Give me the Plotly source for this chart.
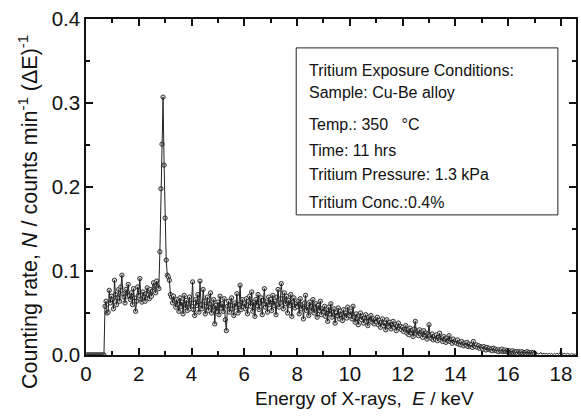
import plotly.graph_objects as go

# Channel calibration (keV per channel) of the spectrum
CHANNEL_WIDTH = 0.04

counts_0 = [0.0] * 17  # 0.04 - 0.68 keV
counts_0b = [0.058, 0.064, 0.050, 0.051, 0.077, 0.062, 0.070]  # 0.72 - 0.96
counts_1 = [0.066, 0.055, 0.089, 0.072, 0.060, 0.068, 0.078, 0.064, 0.081, 0.095, 0.073, 0.069, 0.062,
            0.078, 0.070, 0.084, 0.071, 0.066, 0.074, 0.060, 0.079, 0.068, 0.052, 0.064, 0.081]
counts_2 = [0.071, 0.091, 0.066, 0.063, 0.075, 0.069, 0.064, 0.073, 0.080, 0.072, 0.067, 0.078, 0.070,
            0.076, 0.086, 0.082, 0.074, 0.088, 0.081, 0.079, 0.123, 0.198, 0.251, 0.307, 0.226]
counts_3 = [0.163, 0.113, 0.095, 0.093, 0.089, 0.072, 0.069, 0.062, 0.070, 0.064, 0.057, 0.066, 0.060,
            0.052, 0.068, 0.058, 0.063, 0.049, 0.071, 0.056, 0.065, 0.053, 0.061, 0.069, 0.055]
counts_4 = [0.062, 0.087, 0.054, 0.047, 0.066, 0.059, 0.072, 0.051, 0.088, 0.060, 0.055, 0.078, 0.064,
            0.049, 0.058, 0.069, 0.053, 0.061, 0.074, 0.050, 0.057, 0.066, 0.037, 0.059, 0.052]
counts_5 = [0.063, 0.048, 0.070, 0.056, 0.061, 0.052, 0.067, 0.042, 0.029, 0.058, 0.064, 0.051, 0.059,
            0.068, 0.055, 0.047, 0.062, 0.057, 0.073, 0.050, 0.060, 0.083, 0.054, 0.066, 0.058]
counts_6 = [0.061, 0.055, 0.067, 0.049, 0.064, 0.070, 0.058, 0.075, 0.052, 0.063, 0.046, 0.066, 0.059,
            0.072, 0.054, 0.062, 0.068, 0.048, 0.065, 0.079, 0.057, 0.063, 0.051, 0.069, 0.060]
counts_7 = [0.066, 0.053, 0.071, 0.059, 0.064, 0.048, 0.069, 0.078, 0.057, 0.062, 0.085, 0.067, 0.055,
            0.074, 0.061, 0.070, 0.050, 0.065, 0.059, 0.072, 0.046, 0.063, 0.068, 0.056, 0.061]
counts_8 = [0.058, 0.064, 0.049, 0.067, 0.055, 0.060, 0.043, 0.062, 0.071, 0.053, 0.057, 0.047, 0.063,
            0.058, 0.052, 0.066, 0.050, 0.056, 0.061, 0.045, 0.059, 0.053, 0.064, 0.048, 0.055]
counts_9 = [0.052, 0.058, 0.046, 0.054, 0.040, 0.057, 0.049, 0.061, 0.045, 0.051, 0.055, 0.038, 0.050,
            0.047, 0.056, 0.043, 0.052, 0.048, 0.041, 0.054, 0.046, 0.050, 0.044, 0.057, 0.048]
counts_10 = [0.047, 0.052, 0.043, 0.058, 0.045, 0.039, 0.049, 0.044, 0.036, 0.047, 0.050, 0.042, 0.046,
             0.038, 0.044, 0.048, 0.040, 0.035, 0.045, 0.041, 0.047, 0.039, 0.043, 0.037, 0.042]
counts_11 = [0.040, 0.045, 0.036, 0.041, 0.033, 0.039, 0.043, 0.035, 0.038, 0.030, 0.042, 0.036, 0.034,
             0.039, 0.031, 0.037, 0.040, 0.033, 0.036, 0.029, 0.035, 0.038, 0.032, 0.034, 0.030]
counts_12 = [0.033, 0.028, 0.031, 0.035, 0.026, 0.030, 0.024, 0.032, 0.027, 0.029, 0.022, 0.031, 0.040,
             0.026, 0.028, 0.023, 0.030, 0.025, 0.027, 0.021, 0.029, 0.024, 0.026, 0.019, 0.025]
counts_13 = [0.036, 0.023, 0.020, 0.025, 0.018, 0.022, 0.019, 0.024, 0.017, 0.021, 0.026, 0.018, 0.020,
             0.016, 0.022, 0.019, 0.015, 0.020, 0.017, 0.023, 0.016, 0.018, 0.014, 0.019, 0.016]
counts_14 = [0.017, 0.014, 0.018, 0.013, 0.015, 0.012, 0.016, 0.013, 0.011, 0.014, 0.012, 0.015, 0.010,
             0.013, 0.011, 0.012, 0.009, 0.016, 0.011, 0.010, 0.012, 0.009, 0.011, 0.008, 0.010]
counts_15 = [0.009, 0.007, 0.010, 0.008, 0.006, 0.009, 0.007, 0.008, 0.006, 0.007, 0.005, 0.008, 0.006,
             0.007, 0.005, 0.006, 0.004, 0.006, 0.005, 0.007, 0.004, 0.005, 0.006, 0.004, 0.005]
counts_16 = [0.004, 0.005, 0.003, 0.004, 0.005, 0.003, 0.004, 0.003, 0.004, 0.002, 0.004, 0.003, 0.003,
             0.004, 0.002, 0.003, 0.003, 0.002, 0.004, 0.002, 0.003, 0.002, 0.003, 0.002, 0.003]
counts_17 = [0.002, 0.001, 0.002, 0.002, 0.001, 0.002, 0.003, 0.001, 0.002, 0.002, 0.001, 0.002, 0.001,
             0.002, 0.002, 0.001, 0.002, 0.001, 0.001, 0.002, 0.001, 0.002, 0.001, 0.001, 0.002]
counts_18 = [0.008, 0.001, 0.001, 0.002, 0.001, 0.001, 0.002, 0.001, 0.001, 0.001, 0.002, 0.001, 0.001,
             0.001, 0.001]

counts = (counts_0 + counts_0b + counts_1 + counts_2 + counts_3 + counts_4 + counts_5 + counts_6 +
          counts_7 + counts_8 + counts_9 + counts_10 + counts_11 + counts_12 + counts_13 + counts_14 +
          counts_15 + counts_16 + counts_17 + counts_18)
energy = [round(CHANNEL_WIDTH * (i + 1), 2) for i in range(len(counts))]

MARKER_MAX_E = 17.0
e_mark = [e for e in energy if e <= MARKER_MAX_E]
c_mark = [c for e, c in zip(energy, counts) if e <= MARKER_MAX_E]

x_title = "Energy of X-rays,  <i>E</i> / keV"
y_title = "Counting rate, <i>N</i> / counts min<sup>-1</sup> (ΔE)<sup>-1</sup>"

box_lines = ["Tritium Exposure Conditions:", "Sample: Cu-Be alloy", "Temp.: 350 &nbsp; °C",
             "Time: 11 hrs", "Tritium Pressure: 1.3 kPa", "Tritium Conc.:0.4%"]
box_y = [0.848, 0.780, 0.685, 0.610, 0.536, 0.455]

FONT = "Liberation Sans, Arial, sans-serif"

fig = go.Figure()
fig.add_trace(go.Scatter(x=e_mark, y=c_mark, mode="markers",
                         marker=dict(symbol="circle", size=4.3, color="#d8d8d8",
                                     line=dict(color="#333333", width=1)),
                         showlegend=False, hoverinfo="skip"))
fig.add_trace(go.Scatter(x=energy, y=counts, mode="lines",
                         line=dict(color="#222222", width=1),
                         showlegend=False))

axis_common = dict(showline=True, linecolor="#111111", linewidth=1.5, mirror="ticks",
                   ticks="inside", tickcolor="#111111", tickwidth=1.5, ticklen=7,
                   showgrid=False, zeroline=False,
                   tickfont=dict(family=FONT, size=20.5, color="#111111"))

fig.update_xaxes(range=[0, 18.57], dtick=2, tick0=0,
                 minor=dict(dtick=1, ticks="inside", ticklen=4, tickcolor="#111111", tickwidth=1.5),
                 **axis_common)
fig.update_yaxes(range=[0, 0.4], dtick=0.1, tick0=0, tickformat=".1f",
                 minor=dict(dtick=0.05, ticks="inside", ticklen=4, tickcolor="#111111", tickwidth=1.5),
                 **axis_common)

fig.add_annotation(text=x_title, xref="paper", yref="paper", x=0.569, y=-0.128,
                   xanchor="center", yanchor="middle", showarrow=False,
                   font=dict(family=FONT, size=19, color="#111111"))
fig.add_annotation(text=y_title, xref="paper", yref="paper", x=-0.118, y=0.426,
                   xanchor="center", yanchor="middle", showarrow=False, textangle=-90,
                   font=dict(family=FONT, size=21.5, color="#111111"))

fig.add_shape(type="rect", xref="paper", yref="paper", x0=0.429, x1=0.963, y0=0.417, y1=0.914,
              line=dict(color="#222222", width=1), fillcolor="white", layer="below")
for txt, yy in zip(box_lines, box_y):
    fig.add_annotation(text=txt, xref="paper", yref="paper", x=0.451, y=yy,
                       xanchor="left", yanchor="middle", showarrow=False,
                       font=dict(family=FONT, size=16, color="#111111"))

fig.update_layout(width=581, height=417, margin=dict(l=86, r=3, t=19, b=62),
                  paper_bgcolor="white", plot_bgcolor="white",
                  font=dict(family=FONT, color="#111111"))

fig.write_html("out.html")
